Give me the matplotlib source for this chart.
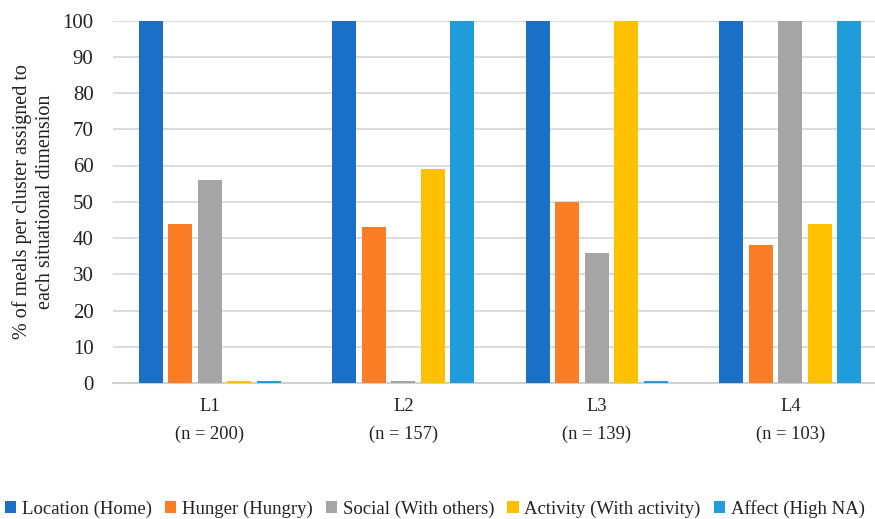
import numpy as np
import matplotlib.pyplot as plt

# Clusters and their sizes
clusters = ["L1", "L2", "L3", "L4"]
cluster_n = [200, 157, 139, 103]

# % of meals per cluster for each situational dimension
series_names = ["Location (Home)", "Hunger (Hungry)", "Social (With others)",
                "Activity (With activity)", "Affect (High NA)"]
location = [100, 100, 100, 100]
hunger = [44, 43, 50, 38]
social = [56, 0.5, 36, 100]
activity = [0.5, 59, 100, 44]
affect = [0.5, 100, 0.5, 100]

colors = ["#1a70c6", "#fb7e27", "#a5a5a5", "#ffc000", "#1f9cd9"]

plt.rcParams["font.family"] = ["Liberation Serif", "DejaVu Serif"]

fig = plt.figure(figsize=(8.75, 5.19), dpi=100)
ax = fig.add_axes([113 / 875, 1 - 383 / 519, 774 / 875, 362.5 / 519])

x = np.arange(len(clusters))
step = 0.1526
width = 0.124
all_series = [location, hunger, social, activity, affect]
for i, (vals, name) in enumerate(zip(all_series, series_names)):
    ax.bar(x + (i - 2) * step, vals, width=width, color=colors[i], label=name, zorder=3)

ax.set_xlim(-0.5, 3.5)
ax.set_ylim(0, 100)
ax.set_yticks(range(0, 101, 10))
ax.set_xticks(x)
ax.set_xticklabels([f"{c}\n(n = {n})" for c, n in zip(clusters, cluster_n)],
                   linespacing=1.75, fontsize=13.3)
ax.tick_params(axis="both", length=0, colors="#222222")
ax.tick_params(axis="y", pad=14, labelsize=15)
ax.tick_params(axis="x", pad=11)

ax.grid(axis="y", color="#d9d9d9", linewidth=1.3, zorder=0)
for side in ["top", "right", "left"]:
    ax.spines[side].set_visible(False)
ax.spines["bottom"].set_color("#d0d0d0")
ax.spines["bottom"].set_linewidth(1.5)

ax.set_ylabel("% of meals per cluster assigned to\neach situational dimension",
              fontsize=14.5, color="#222222", labelpad=5, linespacing=1.3)

fig.legend(loc="lower center", bbox_to_anchor=(0.497, -0.03), ncol=5, frameon=False,
           fontsize=13.5, handlelength=0.6, handleheight=0.6, handletextpad=0.3,
           columnspacing=0.7, labelcolor="#222222")

fig.savefig("out.png", dpi=100)
